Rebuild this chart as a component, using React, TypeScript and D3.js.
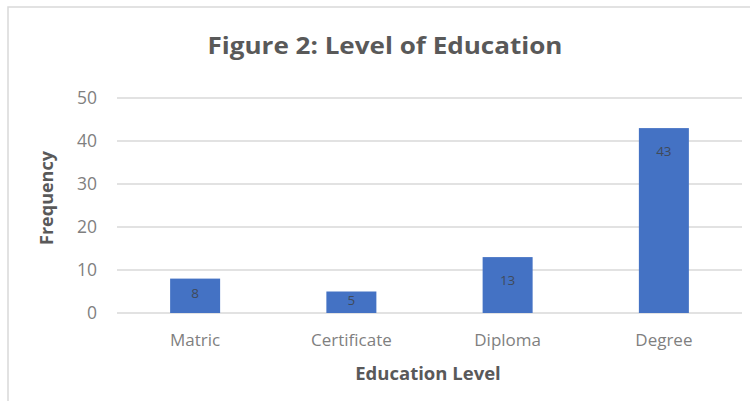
import React from "react";
import * as d3 from "d3";

const categories = ["Matric", "Certificate", "Diploma", "Degree"];
const values = [8, 5, 13, 43];
const yTicks = [0, 10, 20, 30, 40, 50];
const title = "Figure 2: Level of Education";
const xTitle = "Education Level";
const yTitle = "Frequency";

const W = 750;
const H = 401;
const FONT = "'Open Sans', 'Noto Sans', sans-serif";

export default function App() {
  const x = d3.scaleBand<string>().domain(categories).range([117, 742]).paddingInner(0.68).paddingOuter(0.34);
  const y = d3.scaleLinear().domain([0, 50]).range([313, 98]);
  return (
    <svg
      width={W}
      height={H}
      style={{ position: "absolute", left: 0, top: 0, background: "#fff" }}
      xmlns="http://www.w3.org/2000/svg"
    >
      <rect x={8} y={7} width={W + 10} height={H + 10} fill="#fff" stroke="#d9d9d9" strokeWidth={1.5} />
      <text
        x={385}
        y={54}
        textAnchor="middle"
        fontFamily={FONT}
        fontWeight="bold"
        fontSize={24}
        fill="#595959"
        textLength={355}
        lengthAdjust="spacingAndGlyphs"
      >
        {title}
      </text>
      {yTicks.map((t) => (
        <g key={t}>
          <line x1={117} x2={742} y1={y(t)} y2={y(t)} stroke="#d9d9d9" strokeWidth={1.5} />
          <text x={97} y={y(t)} dy="0.36em" textAnchor="end" fontFamily={FONT} fontSize={17.5} fill="#7f7f7f">
            {t}
          </text>
        </g>
      ))}
      {categories.map((c, i) => {
        const v = values[i];
        const top = y(v);
        const h = y(0) - top;
        const off = Math.min(23, h * 0.42);
        return (
          <g key={c}>
            <rect x={x(c)} y={top} width={x.bandwidth()} height={h} fill="#4472c4" />
            <text
              x={(x(c) as number) + x.bandwidth() / 2}
              y={top + off}
              dy="0.36em"
              textAnchor="middle"
              fontFamily={FONT}
              fontSize={13.5}
              fill="#404a5a"
            >
              {v}
            </text>
            <text
              x={(x(c) as number) + x.bandwidth() / 2}
              y={340}
              dy="0.36em"
              textAnchor="middle"
              fontFamily={FONT}
              fontSize={17}
              fill="#7f7f7f"
            >
              {c}
            </text>
          </g>
        );
      })}
      <text
        x={428}
        y={373}
        dy="0.36em"
        textAnchor="middle"
        fontFamily={FONT}
        fontWeight="bold"
        fontSize={18.5}
        fill="#595959"
      >
        {xTitle}
      </text>
      <text
        transform={`translate(47,198) rotate(-90)`}
        dy="0.36em"
        textAnchor="middle"
        fontFamily={FONT}
        fontWeight="bold"
        fontSize={18}
        fill="#595959"
      >
        {yTitle}
      </text>
    </svg>
  );
}
